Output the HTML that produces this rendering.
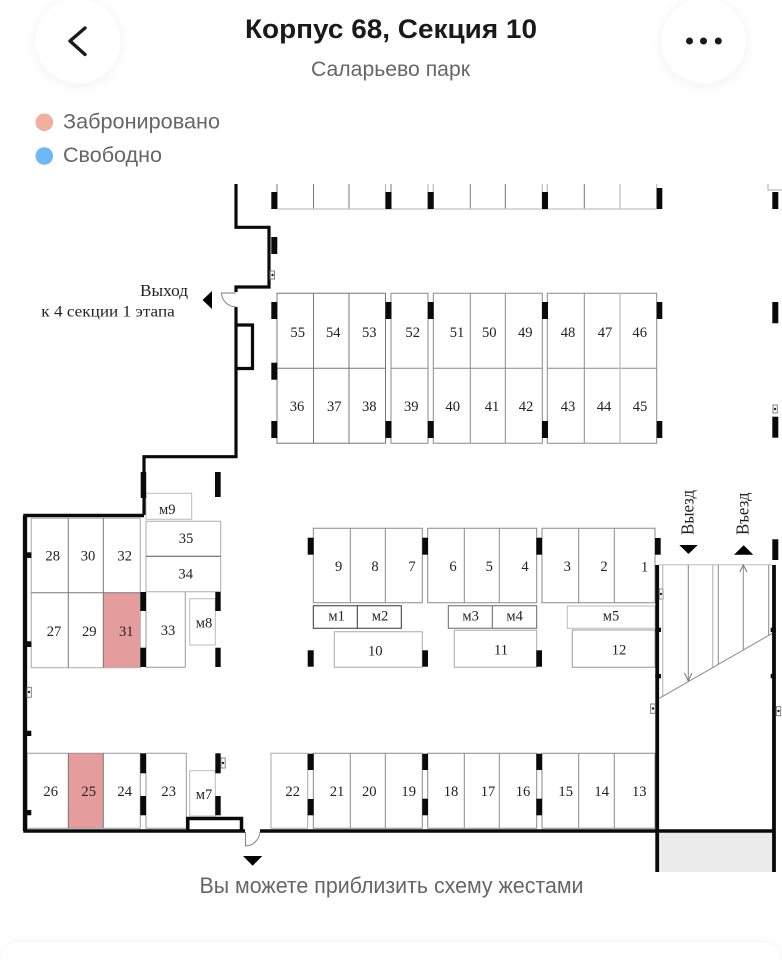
<!DOCTYPE html>
<html lang="ru"><head><meta charset="utf-8"><title>Корпус 68, Секция 10</title>
<style>html,body{margin:0;padding:0;background:#fff}svg{display:block}
.n{transform:translate(0,.5px)}
.n text{font-family:"Liberation Serif",serif;font-size:14.6px;fill:#222;text-anchor:middle}
.s{font-family:"Liberation Sans",sans-serif;fill:#666;font-size:21px}</style></head>
<body>
<svg width="782" height="960" viewBox="0 0 782 960" xmlns="http://www.w3.org/2000/svg">
<defs>
<filter id="sh" x="-40%" y="-40%" width="180%" height="180%"><feGaussianBlur stdDeviation="7"/></filter>
</defs>
<rect width="782" height="960" fill="#fff"/>
<!-- header -->
<circle cx="78" cy="43" r="43" fill="#000" opacity=".05" filter="url(#sh)"/>
<circle cx="78" cy="41" r="42.5" fill="#fff"/>
<circle cx="703.5" cy="43" r="43" fill="#000" opacity=".05" filter="url(#sh)"/>
<circle cx="703.5" cy="41" r="42.5" fill="#fff"/>
<path d="M85 28 L70 41 L85 54.500" fill="none" stroke="#1a1a1a" stroke-width="3.400" stroke-linecap="round" stroke-linejoin="round"/>
<g fill="#1a1a1a"><circle cx="689.500" cy="41" r="3.500"/><circle cx="703.500" cy="41" r="3.500"/><circle cx="718.300" cy="41" r="3.500"/></g>
<text x="245" y="38" font-family="Liberation Sans,sans-serif" font-weight="700" font-size="27" fill="#1a1a1a" textLength="292" lengthAdjust="spacingAndGlyphs">Корпус 68, Секция 10</text>
<text class="s" x="311" y="76" textLength="159" lengthAdjust="spacingAndGlyphs">Саларьево парк</text>
<circle cx="44.300" cy="122.300" r="8.800" fill="#f2ae9e"/>
<circle cx="44.300" cy="156" r="8.800" fill="#6fb8f5"/>
<text class="s" x="63" y="128.500" textLength="157" lengthAdjust="spacingAndGlyphs">Забронировано</text>
<text class="s" x="63" y="162" textLength="99" lengthAdjust="spacingAndGlyphs">Свободно</text>

<!-- filled cells & gray area -->
<rect x="103.300" y="592.700" width="37" height="75" fill="#e59c9c"/>
<rect x="68.300" y="753.300" width="35" height="75" fill="#e59c9c"/>
<rect x="659" y="833" width="113.500" height="39" fill="#ebebeb"/>

<!-- top row -->
<g fill="none" stroke="#777" stroke-width="1">
<path d="M277 184V209M313.500 184V209M349 184V209M391 184V209M470.300 184V209M505.300 184V209M584.300 184V209"/>
<path stroke="#bbb" d="M385.500 184V209M428 184V209M433.300 184V209M542.300 184V209M547.300 184V209M620 184V209M656.700 184V209" stroke-width="1.200"/>
<path stroke="#c4c4c4" d="M277 209H656.700" stroke-width="1.200"/>
<path stroke="#aaa" d="M768 184V190H782"/>
</g>
<!-- cells -->
<g fill="none" stroke="#8a8a8a" stroke-width="1">
<path d="M277 293.300H385.500V443.300H277ZM277 368.300H385.500M313.500 293.300V443.300M349 293.300V443.300" stroke="#777"/>
<path d="M391 293.300H428V443.300H391ZM391 368.300H428" stroke="#8a8a8a"/>
<path d="M433.300 293.300H542.300V443.300H433.300ZM433.300 368.300H542.300M470.300 293.300V443.300M505.300 293.300V443.300"/>
<path d="M547.300 293.300H656.700V443.300H547.300ZM547.300 368.300H656.700M584.300 293.300V443.300"/>
<path d="M620 293.300V443.300" stroke="#c4c4c4" stroke-width="1.400"/>
<!-- upper-left block -->
<path d="M31.300 518.300H140.300V667.700H31.300Z" stroke="#b5b5b5" stroke-width="1.200"/>
<path d="M31.300 592.700H140.300M68.300 518.300V667.700M103.300 518.300V667.700" stroke="#777"/>
<path d="M146 592V667.300H185.300V592" stroke="#999"/>
<path d="M146 521.300H220.700V591.700H146Z" stroke="#aaa"/>
<path d="M146 556.300H220.700" stroke="#555"/>
<path d="M146 493.300H191.700V519.300H146Z" stroke="#bbb"/>
<path d="M189.700 598.700H215.300V645H189.700Z" stroke="#bbb"/>
<!-- bottom row -->
<path d="M27 753.300H140.300V828.300H27Z" stroke="#999"/>
<path d="M68.300 753.300V828.300M103.300 753.300V828.300" stroke="#777"/>
<path d="M146 753.300H186.300V828.300H146Z" stroke="#999"/>
<path d="M189.700 770.700H215.300V816H189.700Z" stroke="#bbb"/>
<path d="M271 753.300H307.700V828.300H271Z" stroke="#aaa"/>
<path d="M313.300 753.300H422.300V828.300H313.300ZM350.300 753.300V828.300M385.300 753.300V828.300"/>
<path d="M427.700 753.300H536.700V828.300H427.700ZM464.300 753.300V828.300M499.300 753.300V828.300"/>
<path d="M542 753.300H655V828.300H542ZM578.700 753.300V828.300M614.300 753.300V828.300"/>
<!-- middle block -->
<path d="M313.300 528.300H422.300V602.700H313.300ZM350.300 528.300V602.700M385.300 528.300V602.700"/>
<path d="M427.700 528.300H536.700V602.700H427.700ZM464.300 528.300V602.700M499.300 528.300V602.700"/>
<path d="M542 528.300H655V602.700H542ZM578.700 528.300V602.700M614.300 528.300V602.700"/>
<path d="M313.300 605.700H401.300V628.300H313.300ZM357.300 605.700V628.300" stroke="#333"/>
<path d="M448.300 605.700H536.700V628.300H448.300ZM492.300 605.700V628.300" stroke="#666"/>
<path d="M567.300 606H655V628.300H567.300Z" stroke="#bbb"/>
<path d="M334.300 631.700H422.300V667.300H334.300Z" stroke="#aaa"/>
<path d="M454.300 630.300H536.700V667.300H454.300Z" stroke="#aaa"/>
<path d="M572.300 630H655V667.300H572.300Z" stroke="#999"/>
</g>

<!-- pillars -->
<g fill="#0a0a0a">
<rect x="271.300" y="192" width="6" height="17"/><rect x="385.500" y="192" width="6" height="17"/><rect x="427.700" y="192" width="6" height="17"/><rect x="542" y="192" width="6" height="17"/><rect x="656.700" y="188" width="5.600" height="21"/><rect x="772.300" y="192" width="6" height="17"/>
<rect x="271.300" y="237" width="6" height="17"/>
<rect x="271.300" y="302" width="6" height="17"/><rect x="385.500" y="302" width="6" height="17"/><rect x="427.700" y="302" width="6" height="17"/><rect x="542" y="302" width="6" height="17"/><rect x="656.700" y="302" width="5.600" height="17"/><rect x="772.300" y="302" width="6" height="21.300"/>
<rect x="271.300" y="362.700" width="6" height="17"/>
<rect x="271.300" y="421" width="6" height="17"/><rect x="385.500" y="421" width="6" height="17"/><rect x="427.700" y="421" width="6" height="17"/><rect x="542" y="421" width="6" height="17"/><rect x="656.700" y="421" width="5.600" height="17"/><rect x="772.300" y="416.700" width="6" height="21"/>
<rect x="140.700" y="472" width="5.500" height="26"/><rect x="215" y="472" width="5.700" height="25"/>
<rect x="140.300" y="592" width="5.700" height="19"/><rect x="140.300" y="647.700" width="5.700" height="19.300"/><rect x="215.300" y="592" width="5.400" height="19"/><rect x="215.300" y="647.700" width="5.400" height="19.300"/>
<rect x="25" y="552.300" width="6.300" height="5.700"/><rect x="25" y="641.300" width="6.300" height="5.700"/><rect x="25" y="730.700" width="6.300" height="5.300"/><rect x="25" y="810" width="6.300" height="5.300"/>
<rect x="140.300" y="753.300" width="5.700" height="20"/><rect x="140.300" y="796" width="5.700" height="19.300"/><rect x="215.300" y="753.300" width="5.400" height="20"/><rect x="215.300" y="796" width="5.400" height="19.300"/>
<rect x="307.700" y="753.700" width="6" height="16.300"/><rect x="307.700" y="799" width="6" height="16.300"/><rect x="422.300" y="753.700" width="5.700" height="16.300"/><rect x="422.300" y="798.700" width="5.700" height="16.600"/><rect x="536.300" y="753.700" width="5.700" height="16.300"/><rect x="536.300" y="798.700" width="5.700" height="16.600"/>
<rect x="307.700" y="537.700" width="6" height="17"/><rect x="422.300" y="537.700" width="5.700" height="17"/><rect x="536.300" y="537.700" width="5.700" height="17"/><rect x="655" y="538" width="5.700" height="16.700"/><rect x="772.300" y="539.300" width="6" height="20.700"/>
<rect x="307.700" y="650.300" width="6" height="16.400"/><rect x="422.300" y="650.300" width="5.700" height="16.400"/><rect x="536.300" y="650.300" width="5.700" height="16.400"/>
<rect x="655.300" y="627.700" width="5.700" height="4.300"/><rect x="655.300" y="674" width="5.700" height="4.300"/><rect x="770.700" y="627.700" width="5" height="4.300"/><rect x="770.700" y="674" width="5" height="4.300"/>
</g>

<!-- walls -->
<g fill="none" stroke="#0a0a0a" stroke-linejoin="miter">
<path stroke-width="3.200" d="M236 184V227.300H269V287H236V292M236 307V456.700H144V515"/>
<path stroke-width="3.200" d="M236 325H252.500V368.500H236"/>
<path stroke-width="3.400" d="M144 515.500H25V831H245M260 831H775"/>
<path stroke-width="4.300" d="M25 515.500V831"/>
<path stroke-width="3.500" d="M187.800 831V818.500H241.500V831"/>
<path stroke-width="3.800" d="M657.200 565V872M774 565V872"/>
</g>
<!-- doors -->
<g fill="none" stroke="#777" stroke-width=".9">
<path d="M236 293H221.500C222 301 228 306.500 236 307"/>
<path d="M245.500 832V846C253 846 259 840 260 832"/>
<!-- small boxes -->
<rect x="270" y="271" width="4.500" height="8"/><rect x="27" y="687.300" width="4.300" height="10"/><rect x="221" y="758" width="4.200" height="10"/><rect x="773" y="405" width="4.300" height="8"/><rect x="659.300" y="589" width="3.800" height="10"/><rect x="650.700" y="704" width="4.500" height="9.300"/><rect x="776.300" y="706.700" width="4.400" height="9"/>
</g>
<g fill="#222"><circle cx="272.500" cy="275" r="1.200"/><circle cx="29" cy="692" r="1.200"/><circle cx="223" cy="763" r="1.200"/><circle cx="775" cy="409" r="1.200"/><circle cx="661" cy="594" r="1.200"/><circle cx="653" cy="708.500" r="1.200"/><circle cx="778.500" cy="711" r="1.200"/></g>
<!-- ramp -->
<g fill="none" stroke="#888" stroke-width="1">
<path stroke="#bbb" d="M659 564.800H772"/>
<path stroke="#bbb" stroke-width="1.200" d="M662.700 565V696.300M712.700 565V667.600"/>
<path d="M688.300 565V681.600M718.300 565V664.300M743.300 565V650M768.700 565V635.300"/>
<path d="M659.300 698.300L772.300 633.300"/>
<path d="M684.500 673L688.300 681L692 673M739.700 572L743.300 565L747 572" stroke="#777"/>
</g>
<!-- triangles -->
<g fill="#000">
<path d="M202.500 300L212 291V309Z"/>
<path d="M243 856H262.300L252.700 865.700Z"/>
<path d="M679.300 545H697.700L688.500 554Z"/>
<path d="M734 554.700H753.300L743.700 545.300Z"/>
</g>
<!-- labels -->
<g font-family="Liberation Serif,serif" fill="#222" font-size="16.500">
<text x="140" y="296" textLength="48" lengthAdjust="spacingAndGlyphs">Выход</text>
<text x="41.300" y="316.500" textLength="133.500" lengthAdjust="spacingAndGlyphs" font-size="16">к 4 секции 1 этапа</text>
<text transform="translate(693.300 535) rotate(-90)" font-size="17.500" textLength="45" lengthAdjust="spacingAndGlyphs">Выезд</text>
<text transform="translate(748.300 535) rotate(-90)" font-size="17.500" textLength="42.500" lengthAdjust="spacingAndGlyphs">Въезд</text>
</g>
<g class="n">
<text x="297.700" y="336.500">55</text><text x="333.300" y="336.500">54</text><text x="369.300" y="336.500">53</text><text x="412.700" y="336.500">52</text><text x="457" y="336.500">51</text><text x="489.300" y="336.500">50</text><text x="525.300" y="336.500">49</text><text x="568" y="336.500">48</text><text x="605" y="336.500">47</text><text x="639.700" y="336.500">46</text>
<text x="297" y="410.500">36</text><text x="334.300" y="410.500">37</text><text x="369.300" y="410.500">38</text><text x="411.300" y="410.500">39</text><text x="452.700" y="410.500">40</text><text x="492" y="410.500">41</text><text x="526" y="410.500">42</text><text x="568" y="410.500">43</text><text x="604" y="410.500">44</text><text x="640" y="410.500">45</text>
<text x="52.700" y="560.200">28</text><text x="88" y="560.200">30</text><text x="124.700" y="560.200">32</text>
<text x="54" y="635.500">27</text><text x="89.300" y="635.500">29</text><text x="126.300" y="635.500">31</text><text x="168" y="634.500">33</text>
<text x="186" y="542.500">35</text><text x="185.700" y="577.800">34</text>
<text x="167.300" y="513.500">м9</text><text x="204" y="627.200">м8</text><text x="204" y="798.500">м7</text>
<text x="50.700" y="795.500">26</text><text x="88.700" y="795.500">25</text><text x="124.700" y="795.500">24</text><text x="168.700" y="795.500">23</text><text x="292.700" y="795.500">22</text>
<text x="338.700" y="570.500">9</text><text x="375" y="570.500">8</text><text x="412" y="570.500">7</text><text x="453" y="570.500">6</text><text x="489.300" y="570.500">5</text><text x="525" y="570.500">4</text><text x="567.300" y="570.500">3</text><text x="604" y="570.500">2</text><text x="644.700" y="571">1</text>
<text x="336.700" y="620.200">м1</text><text x="380" y="620.200">м2</text><text x="470.700" y="620.200">м3</text><text x="514.700" y="620.200">м4</text><text x="611" y="620.200">м5</text>
<text x="375.300" y="655.200">10</text><text x="501" y="653.800">11</text><text x="619" y="653.800">12</text>
<text x="337" y="795.500">21</text><text x="369.300" y="795.500">20</text><text x="408.700" y="795.500">19</text><text x="451" y="795.500">18</text><text x="488" y="795.500">17</text><text x="523" y="795.500">16</text><text x="565.700" y="795.500">15</text><text x="601.700" y="795.500">14</text><text x="639.300" y="795.500">13</text>
</g>
<text class="s" x="199.500" y="893" style="font-size:22px" textLength="384" lengthAdjust="spacingAndGlyphs">Вы можете приблизить схему жестами</text>
<!-- bottom panel -->
<rect x="2" y="943" width="778" height="40" rx="16" fill="#000" opacity=".05" filter="url(#sh)"/>
<rect x="2" y="943" width="778" height="40" rx="14" fill="#fff"/>
</svg>
</body></html>
